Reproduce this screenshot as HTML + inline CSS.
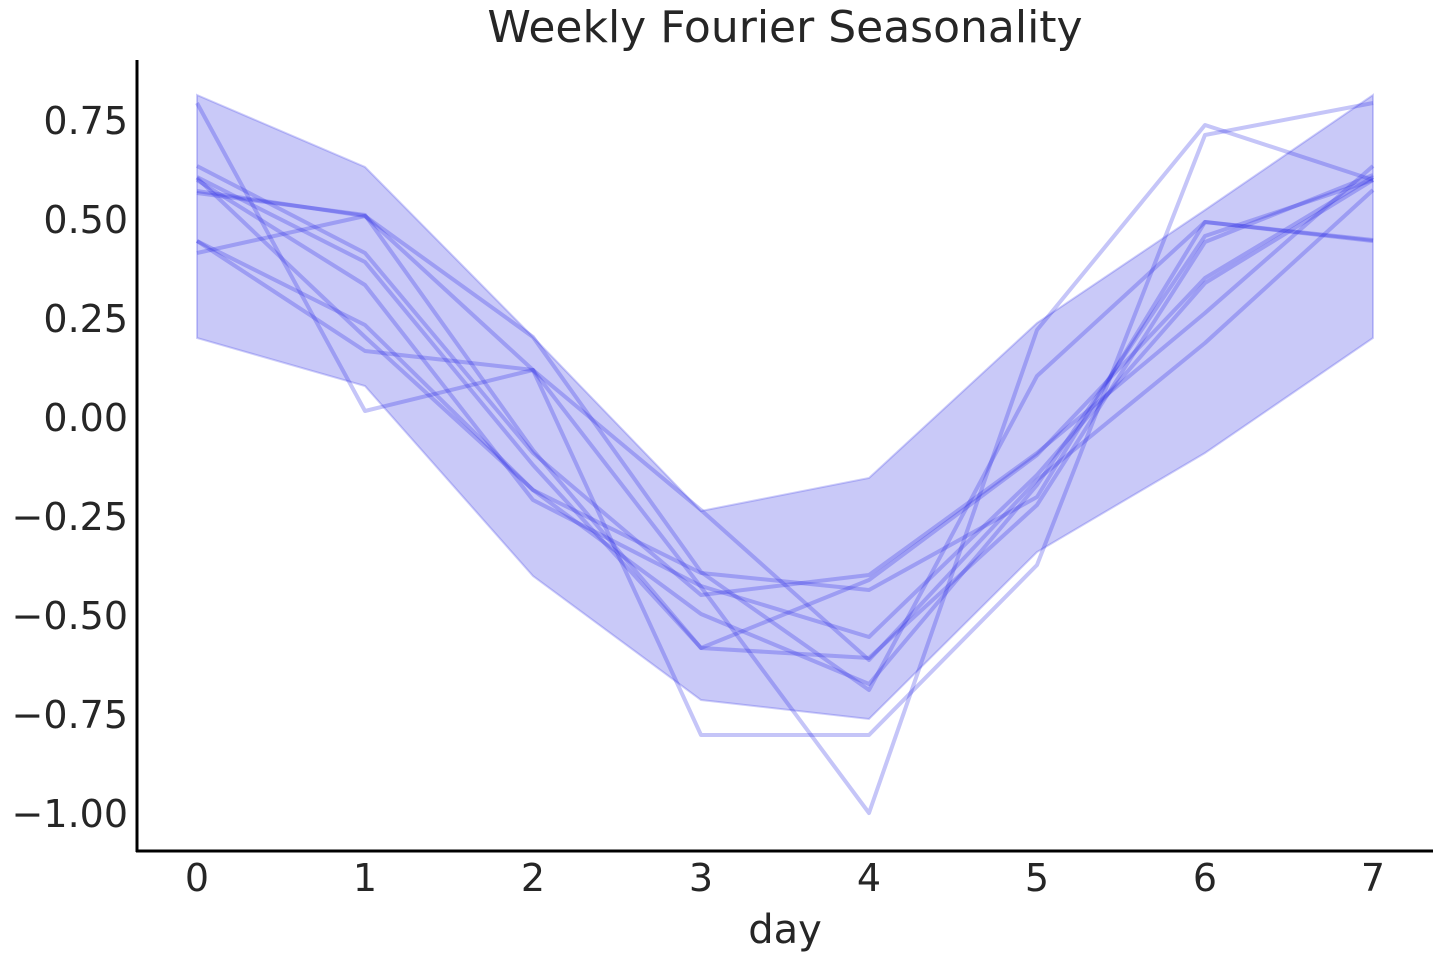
<!DOCTYPE html>
<html><head><style>body{margin:0;background:#fff}svg{display:block}</style></head><body>
<svg width="1440" height="960" xmlns="http://www.w3.org/2000/svg" font-family="DejaVu Sans, Liberation Sans, sans-serif" fill="#262626">
<text x="785" y="42" font-size="44" text-anchor="middle">Weekly Fourier Seasonality</text>
<polygon points="197,95 365,167 533,337 701,511 869,478 1037,323 1205,210 1373,95 1373,338 1205,453 1037,552 869,719 701,700 533,576 365,386 197,338" fill="rgb(60,60,230)" fill-opacity="0.28" stroke="rgb(60,60,230)" stroke-opacity="0.25" stroke-width="2"/>
<g fill="none" stroke="rgb(40,40,230)" stroke-opacity="0.27" stroke-width="4" stroke-linejoin="round">
<polyline points="197,103 365,411 533,370 701,587 869,813 1037,330 1205,125 1373,180"/>
<polyline points="197,191 365,216 533,370 701,735 869,735 1037,565 1205,135 1373,103"/>
<polyline points="197,253 365,216 533,337 701,572 869,690 1037,376 1205,222 1373,240"/>
<polyline points="197,166 365,253 533,453 701,595 869,575 1037,453 1205,313 1373,166"/>
<polyline points="197,180 365,285 533,500 701,586 869,637 1037,475 1205,283 1373,180"/>
<polyline points="197,178 365,337 533,490 701,614 869,684 1037,485 1205,236 1373,180"/>
<polyline points="197,241 365,351 533,370 701,510 869,660 1037,480 1205,343 1373,190"/>
<polyline points="197,193 365,215 533,450 701,648 869,658 1037,505 1205,242 1373,175"/>
<polyline points="197,177 365,262 533,465 701,648 869,580 1037,455 1205,278 1373,177"/>
<polyline points="197,241 365,325 533,490 701,573 869,590 1037,497 1205,222 1373,241"/>
</g>
<g stroke="#000" stroke-width="3"><line x1="137" y1="60" x2="137" y2="852"/><line x1="136" y1="851" x2="1433" y2="851"/></g>
<g font-size="38" text-anchor="end">
<text x="128" y="134">0.75</text><text x="128" y="233">0.50</text><text x="128" y="332">0.25</text><text x="128" y="431">0.00</text>
<text x="128" y="530">−0.25</text><text x="128" y="629">−0.50</text><text x="128" y="728">−0.75</text><text x="128" y="827">−1.00</text>
</g>
<g font-size="38" text-anchor="middle">
<text x="197" y="891">0</text><text x="365" y="891">1</text><text x="533" y="891">2</text><text x="701" y="891">3</text>
<text x="869" y="891">4</text><text x="1037" y="891">5</text><text x="1205" y="891">6</text><text x="1373" y="891">7</text>
<text x="785" y="943" font-size="40">day</text>
</g>
</svg>
</body></html>
